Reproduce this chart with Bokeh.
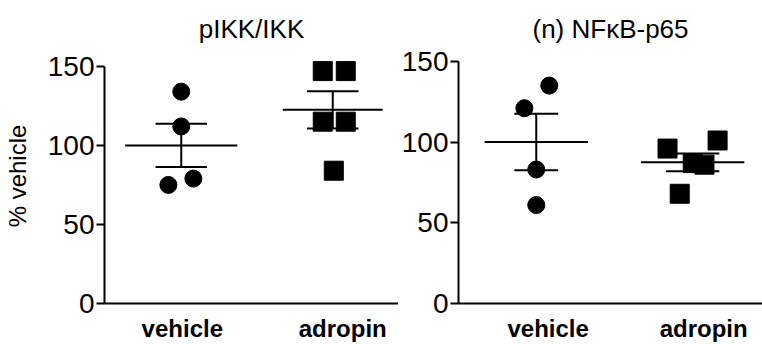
from bokeh.plotting import figure
from bokeh.layouts import row
from bokeh.models import FixedTicker, Range1d
from bokeh.embed import file_html
from bokeh.resources import INLINE

# ---- data ----
groups = ["vehicle", "adropin"]
titles = ["pIKK/IKK", "(n) NFκB-p65"]
y_ticks = [0, 50, 100, 150]

pikk_vehicle = [134, 112, 79, 75]
pikk_adropin = [147, 147, 115, 115, 84]
pikk_mean = [100, 122.5]
pikk_sem = [13.7, 11.8]

nfkb_vehicle = [135, 121, 83, 61]
nfkb_adropin = [96, 101, 87, 86, 68]
nfkb_mean = [100, 87.5]
nfkb_sem = [17.5, 5.5]

# ---- layout helpers (jitter offsets of points within a group, in group units) ----
pikk_dx = [[0, 0, 0.08, -0.085], [-0.066, 0.086, -0.066, 0.086, 0.007]]
nfkb_dx = [[0.083, -0.076, 0, 0], [-0.161, 0.159, 0, 0.075, -0.083]]

FONT = "Liberation Sans"


def panel(title, vehicle, adropin, mean, sem, dx, width, border_left,
          x_start, x_end, y_end, label_pos, mean_half, cap_half, ylabel):
    p = figure(width=width, height=344, output_backend="svg", toolbar_location=None,
               x_range=Range1d(x_start, x_end), y_range=Range1d(0, y_end),
               min_border_left=border_left, min_border_right=0,
               min_border_top=48, min_border_bottom=40)
    p.outline_line_color = None
    p.grid.visible = False
    p.background_fill_color = "white"
    p.border_fill_color = "white"

    p.title.text = title
    p.title.align = "center"
    p.title.text_font = FONT
    p.title.text_font_size = "26px"
    p.title.text_font_style = "normal"
    p.title.text_color = "black"
    p.title.standoff = 9

    centers = [1, 2]
    # points
    xs_v = [centers[0] + d for d in dx[0]]
    xs_a = [centers[1] + d for d in dx[1]]
    p.scatter(xs_v, vehicle, marker="circle", size=17, color="black")
    p.scatter(xs_a, adropin, marker="square", size=19, color="black")

    # mean lines
    p.segment(x0=[c - h for c, h in zip(centers, mean_half)],
              x1=[c + h for c, h in zip(centers, mean_half)],
              y0=mean, y1=mean, line_color="black", line_width=2)
    # sem vertical
    p.segment(x0=centers, x1=centers,
              y0=[m - s for m, s in zip(mean, sem)],
              y1=[m + s for m, s in zip(mean, sem)],
              line_color="black", line_width=2)
    # sem caps
    for sign in (1, -1):
        ys = [m + sign * s for m, s in zip(mean, sem)]
        p.segment(x0=[c - h for c, h in zip(centers, cap_half)],
                  x1=[c + h for c, h in zip(centers, cap_half)],
                  y0=ys, y1=ys, line_color="black", line_width=2)

    # y axis
    ya = p.yaxis[0]
    ya.ticker = FixedTicker(ticks=y_ticks)
    ya.bounds = (0, 150)
    ya.axis_line_width = 2
    ya.axis_line_color = "black"
    ya.major_tick_line_width = 2
    ya.major_tick_line_color = "black"
    ya.major_tick_out = 8
    ya.major_tick_in = 0
    ya.minor_tick_line_color = None
    ya.major_label_standoff = 2
    ya.major_label_text_font = FONT
    ya.major_label_text_font_size = "28px"
    ya.major_label_text_color = "black"
    if ylabel:
        ya.axis_label = ylabel
        ya.axis_label_text_font = FONT
        ya.axis_label_text_font_size = "24px"
        ya.axis_label_text_font_style = "normal"
        ya.axis_label_text_color = "black"
        ya.axis_label_standoff = 14

    # x axis
    xa = p.xaxis[0]
    xa.ticker = FixedTicker(ticks=label_pos)
    xa.major_label_overrides = {label_pos[i]: groups[i] for i in range(2)}
    xa.axis_line_width = 2
    xa.axis_line_color = "black"
    xa.major_tick_line_color = None
    xa.major_tick_out = 0
    xa.major_tick_in = 0
    xa.minor_tick_line_color = None
    xa.major_label_standoff = 11
    xa.major_label_text_font = FONT
    xa.major_label_text_font_size = "24px"
    xa.major_label_text_font_style = "bold"
    xa.major_label_text_color = "black"
    return p


p1 = panel(titles[0], pikk_vehicle, pikk_adropin, pikk_mean, pikk_sem, pikk_dx,
           width=398, border_left=103, x_start=0.4934, x_end=2.434, y_end=161.3,
           label_pos=[1.007, 2.066], mean_half=[0.37, 0.33], cap_half=[0.17, 0.17],
           ylabel="% vehicle")
p2 = panel(titles[1], nfkb_vehicle, nfkb_adropin, nfkb_mean, nfkb_sem, nfkb_dx,
           width=364, border_left=59, x_start=0.503, x_end=2.446, y_end=158.0,
           label_pos=[1.076, 2.07], mean_half=[0.33, 0.33], cap_half=[0.14, 0.17],
           ylabel=None)

layout = row(p1, p2)
open("out.html", "w").write(file_html(layout, INLINE, title="adropin"))
